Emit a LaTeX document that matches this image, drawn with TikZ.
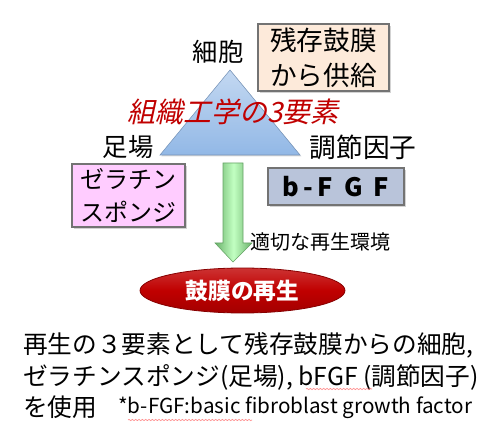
\documentclass[tikz,border=0pt]{standalone}
\usepackage{fontspec}
\setmainfont{Noto Sans CJK JP}
\newfontfamily\jpslant[FakeSlant=0.22]{Noto Sans CJK JP}
\usetikzlibrary{shadows,decorations.pathmorphing}
\definecolor{peach}{HTML}{FDEADA}
\definecolor{pinkbox}{HTML}{FFCCFF}
\definecolor{slatebox}{HTML}{B9C4DA}
\definecolor{darkred}{HTML}{C00000}
\definecolor{triblue}{HTML}{92B8E6}
\definecolor{lgreen}{HTML}{99FF99}
\tikzset{
  lbl/.style={inner sep=0pt, font=\fontsize{19}{22}\selectfont},
  infobox/.style={draw=black!55, line width=0.8pt, inner sep=0pt, align=left,
    drop shadow={opacity=0.35, shadow xshift=1.2pt, shadow yshift=-1.2pt}},
  squiggle/.style={draw=red!45, line width=0.5pt, decorate,
    decoration={snake, amplitude=0.5pt, segment length=2.5pt}},
}
\begin{document}
\begin{tikzpicture}[x=0.75pt, y=-0.75pt]
\useasboundingbox (0,0) rectangle (500,442);
% triangle
\path[top color=triblue!55, bottom color=triblue, draw=triblue!80!black, line width=0.4pt,
  drop shadow={opacity=0.3, shadow xshift=1pt, shadow yshift=-1pt}]
  (230,70) -- (300,155) -- (160,155) -- cycle;
% labels at triangle corners
\node[lbl] (cell) at (218,52) {細胞};
\node[lbl] (scaf) at (128,147) {足場};
\node[lbl, font=\fontsize{20}{22}\selectfont] (reg) at (363,147) {調節因子};
\node[inner sep=0pt, text=darkred, font=\jpslant\fontsize{21}{24}\selectfont] (title) at (233,112) {組織工学の3要素};
% boxes
\node[infobox, fill=peach, minimum width=131*0.75pt, minimum height=67*0.75pt,
  font=\fontsize{20}{26}\selectfont] (rem) at (323.5,57.5) {残存鼓膜\\から供給};
\node[infobox, fill=pinkbox, minimum width=113*0.75pt, minimum height=63*0.75pt,
  font=\fontsize{18}{25}\selectfont] (gel) at (128.5,195.5) {ゼラチン\\スポンジ};
\node[infobox, fill=slatebox, minimum width=136*0.75pt, minimum height=37*0.75pt,
  font=\bfseries\fontsize{19}{22}\selectfont] (fgf) at (336,186.5) {b\,-\,F\;\,G\;\,F};
% green arrow
\path[left color=lgreen!70!black, right color=lgreen!70!black, middle color=lgreen!60,
  draw=green!40!black!60, line width=0.4pt]
  (223,163) -- (243,163) -- (243,243) -- (252,243) -- (233,262) -- (215,243) -- (223,243) -- cycle;
\node[inner sep=0pt, anchor=west, font=\fontsize{15}{17}\selectfont] (env) at (250,242) {適切な再生環境};
% red ellipse
\path[top color=darkred!80!white, bottom color=darkred!85!black, middle color=darkred,
  draw=darkred!70!black, line width=0.6pt]
  (242.5,290.5) ellipse [x radius=102.5, y radius=22.5];
\node[inner sep=0pt, text=white, font=\bfseries\fontsize{17}{20}\selectfont] (regen) at (242.5,290.5) {鼓膜の再生};
% bottom text
\node[inner sep=0pt, anchor=west, font=\fontsize{18.5}{22}\selectfont] (l1) at (23,345) {再生の３要素として残存鼓膜からの細胞,};
\node[inner sep=0pt, anchor=west, font=\fontsize{18.5}{22}\selectfont] (l2) at (23,377) {ゼラチンスポンジ(足場), bFGF (調節因子)};
\node[inner sep=0pt, anchor=west, font=\fontsize{18.5}{22}\selectfont] (l3) at (23,407) {を使用};
\node[inner sep=0pt, anchor=west, font=\fontsize{15.5}{18}\selectfont] (note) at (118,408) {*b-FGF:basic fibroblast growth factor};
\path[squiggle] (306,389) -- (372,389);
\path[squiggle] (128,420) -- (252,420);
\end{tikzpicture}
\end{document}
